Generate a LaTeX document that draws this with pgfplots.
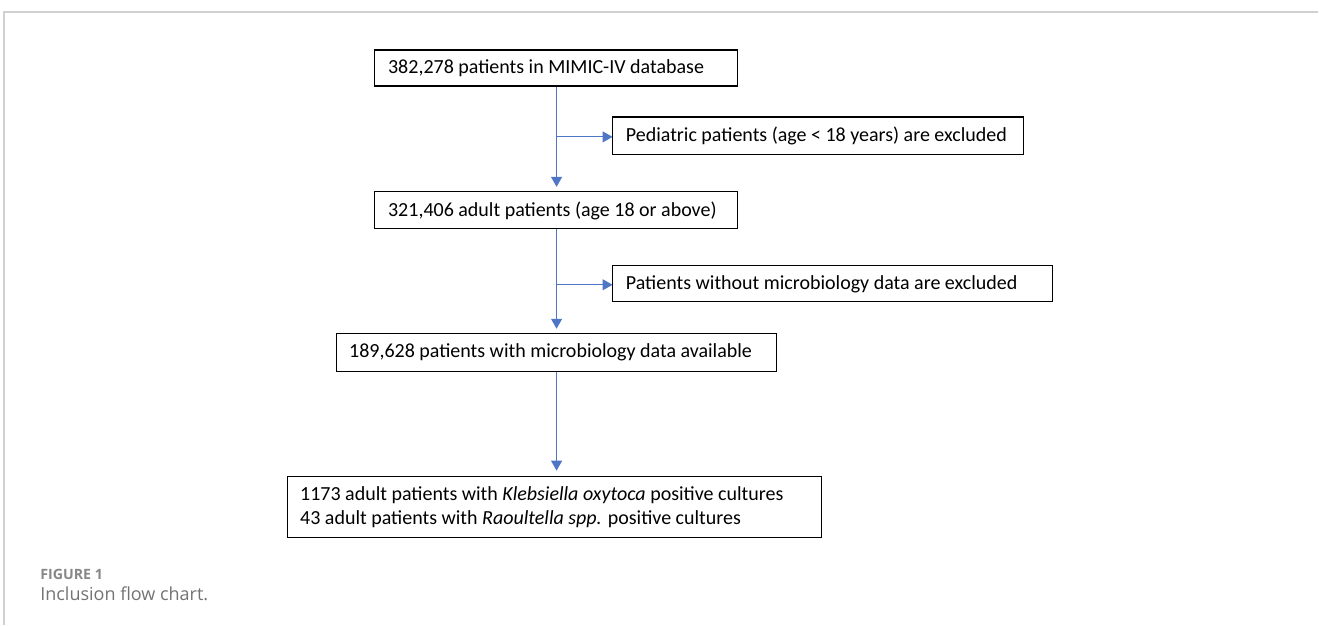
\documentclass[border=0pt]{standalone}
\usepackage{fontspec}
\setmainfont{Carlito}
\newfontfamily\capfont{Open Sans}
\usepackage{pgfplots}
\pgfplotsset{compat=1.18}
\usetikzlibrary{arrows.meta}
\definecolor{arrowblue}{RGB}{79,118,198}
\definecolor{framegray}{RGB}{208,208,208}
\definecolor{capgray}{RGB}{115,115,115}
\definecolor{figgray}{RGB}{135,135,135}
\begin{document}
\begin{tikzpicture}
\begin{axis}[
  width=659.5pt, height=312.5pt, scale only axis,
  xmin=0, xmax=1319, ymin=0, ymax=625, y dir=reverse,
  hide axis, clip=false,
]
% bounding area
\path (axis cs:0,0) rectangle (axis cs:1319,625);
% frame
\addplot[framegray, line width=1pt] coordinates {(4,625) (4,12) (1319,12)};
% arrows
\addplot[arrowblue, line width=0.55pt, -{Triangle[width=5.5pt,length=5pt]}] coordinates {(557,86) (557,187)};
\addplot[arrowblue, line width=0.55pt, -{Triangle[width=5.5pt,length=5pt]}] coordinates {(557,137) (613,137)};
\addplot[arrowblue, line width=0.55pt, -{Triangle[width=5.5pt,length=5pt]}] coordinates {(557,229) (557,329)};
\addplot[arrowblue, line width=0.55pt, -{Triangle[width=5.5pt,length=5pt]}] coordinates {(557,285) (613,285)};
\addplot[arrowblue, line width=0.55pt, -{Triangle[width=5.5pt,length=5pt]}] coordinates {(557,372) (557,471)};
% boxes
\draw[black, line width=0.6pt] (axis cs:375,50) rectangle (axis cs:738,86);
\draw[black, line width=0.6pt] (axis cs:613,117) rectangle (axis cs:1024,155);
\draw[black, line width=0.6pt] (axis cs:375,192) rectangle (axis cs:738,229);
\draw[black, line width=0.6pt] (axis cs:613,266) rectangle (axis cs:1053,302);
\draw[black, line width=0.6pt] (axis cs:337,334) rectangle (axis cs:777,372);
\draw[black, line width=0.6pt] (axis cs:288,477) rectangle (axis cs:822,538);
% texts
\tikzset{boxtxt/.style={anchor=west, inner sep=0pt, font=\fontsize{10}{12}\selectfont}}
\node[boxtxt] at (axis cs:388,68) {382,278 patients in MIMIC-IV database};
\node[boxtxt] at (axis cs:626,136) {Pediatric patients (age < 18 years) are excluded};
\node[boxtxt] at (axis cs:388,211) {321,406 adult patients (age 18 or above)};
\node[boxtxt] at (axis cs:626,284) {Patients without microbiology data are excluded};
\node[boxtxt] at (axis cs:349,353) {189,628 patients with microbiology data available};
\node[boxtxt] at (axis cs:300,496) {1173 adult patients with \textit{Klebsiella oxytoca} positive cultures};
\node[boxtxt] at (axis cs:300,520) {43 adult patients with \textit{Raoultella spp.} positive cultures};
% caption
\node[anchor=base west, inner sep=0pt, text=figgray, font=\capfont\bfseries\fontsize{7.1}{9}\selectfont] at (axis cs:40,580) {FIGURE 1};
\node[anchor=base west, inner sep=0pt, text=capgray, font=\capfont\fontsize{9}{11}\selectfont] at (axis cs:40,601) {Inclusion flow chart.};
\end{axis}
\end{tikzpicture}
\end{document}
